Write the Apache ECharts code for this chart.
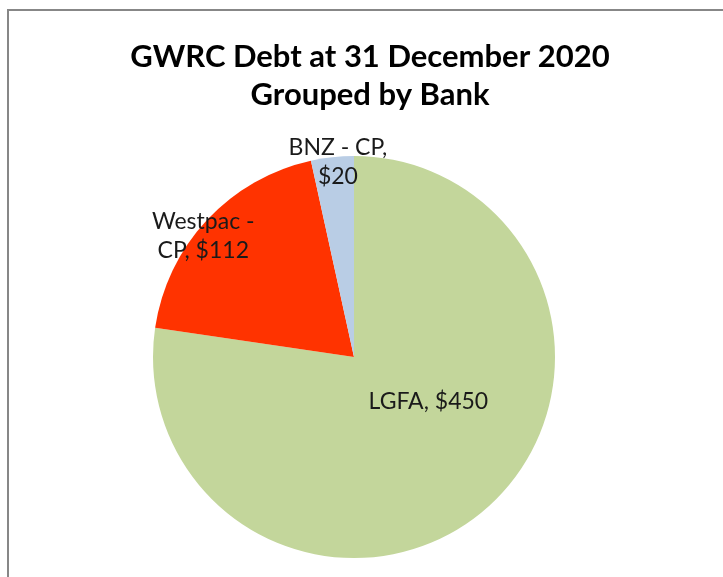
<!DOCTYPE html>
<html>
<head>
<meta charset="utf-8">
<script src="https://cdn.jsdelivr.net/npm/echarts@6/dist/echarts.min.js"></script>
<style>
html,body{margin:0;padding:0;background:#fff;}
#chart{width:723px;height:577px;}
</style>
</head>
<body>
<div id="chart"></div>
<script>
const titleLines = ['GWRC Debt at 31 December 2020', 'Grouped by Bank'];
const categories = ['LGFA', 'Westpac - CP', 'BNZ - CP'];
const values = [450, 112, 20];
const labelTexts = ['LGFA, $450', 'Westpac -\nCP, $112', 'BNZ - CP,\n$20'];
const colors = ['#C3D69B', '#FF3300', '#B9CDE5'];

const FONT = 'Lato';
const cx = 354, cy = 357, R = 201;
// label anchor positions relative to pie centre, in radius units
const labelPos = [[0.37, 0.22], [-0.75, -0.6], [-0.08, -0.97]];

const chart = echarts.init(document.getElementById('chart'), null, {renderer: 'canvas'});
chart.setOption({
  backgroundColor: '#ffffff',
  animation: false,
  title: {
    text: titleLines.join('\n'),
    left: 365,
    top: 33,
    textAlign: 'center',
    textStyle: {fontFamily: FONT, fontWeight: 'bold', fontSize: 31, color: '#000', lineHeight: 38}
  },
  graphic: [{
    type: 'rect',
    shape: {x: 8, y: 10, width: 760, height: 620},
    style: {fill: 'none', stroke: '#878787', lineWidth: 2},
    silent: true
  }],
  series: [{
    type: 'pie',
    center: [cx, cy],
    radius: [0, R],
    startAngle: 90,
    clockwise: true,
    avoidLabelOverlap: false,
    labelLine: {show: false},
    label: {
      show: true,
      position: 'inside',
      fontFamily: FONT,
      fontSize: 23,
      lineHeight: 29,
      color: '#1a1a1a',
      align: 'center',
      formatter: p => labelTexts[p.dataIndex]
    },
    labelLayout: p => ({
      x: cx + labelPos[p.dataIndex][0] * R,
      y: cy + labelPos[p.dataIndex][1] * R,
      align: 'center',
      verticalAlign: 'middle'
    }),
    itemStyle: {borderWidth: 0},
    emphasis: {disabled: true},
    data: categories.map((c, i) => ({name: c, value: values[i], itemStyle: {color: colors[i]}}))
  }]
});
</script>
</body>
</html>
